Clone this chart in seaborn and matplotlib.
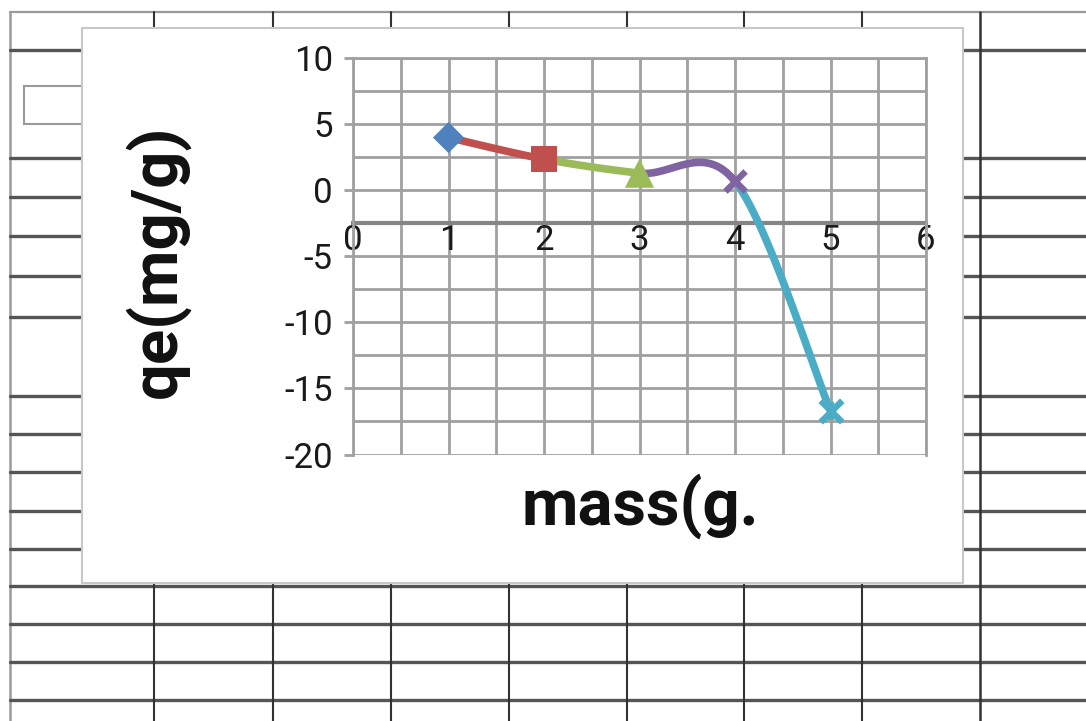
import numpy as np
import pandas as pd
import matplotlib
matplotlib.use("Agg")
import matplotlib.pyplot as plt
import seaborn as sns
from matplotlib.lines import Line2D
from matplotlib.patches import Rectangle

# ---------------- data ----------------
mass = [1, 2, 3, 4, 5]
qe = [4.0, 2.37, 1.3, 0.68, -16.7]
point_colors = ["#4F81BD", "#C0504D", "#9BBB59", "#8064A2", "#4BACC6"]
x_ticks = [0, 1, 2, 3, 4, 5, 6]
y_ticks = [-20, -15, -10, -5, 0, 5, 10]
x_label = "mass(g."
y_label = "qe(mg/g)"

# ---------------- style ----------------
sns.set_theme(style="white")
plt.rcParams["font.family"] = ["Roboto", "DejaVu Sans"]

W, H = 1086, 721
fig = plt.figure(figsize=(W / 100, H / 100), dpi=100)
fig.patch.set_facecolor("white")


def fx(x):
    return x / W


def fy(y):
    return 1 - y / H


# ---------------- spreadsheet background (layout only) ----------------
row_lines = [50, 158, 197, 236, 276, 317, 396, 434, 472, 511, 549, 586, 624, 662, 700]
col_lines = [154, 273, 391, 509, 627, 744, 862]
fig.add_artist(Line2D([fx(10), 1], [fy(12), fy(12)], color="#9a9a9a", lw=1.6, zorder=-3))
fig.add_artist(Line2D([fx(10), fx(10)], [fy(12), 0], color="#9a9a9a", lw=1.8, zorder=-3))
for yy in row_lines:
    fig.add_artist(Line2D([fx(10), 1], [fy(yy), fy(yy)], color="#555555", lw=2.4, zorder=-3))
for xx in col_lines:
    fig.add_artist(Line2D([fx(xx), fx(xx)], [fy(12), 0], color="#333333", lw=1.5, zorder=-3))
fig.add_artist(Line2D([fx(980), fx(980)], [fy(12), 0], color="#333333", lw=1.8, zorder=-3))
fig.add_artist(Rectangle((fx(24), fy(124)), fx(90) - fx(24), fy(86.5) - fy(124),
                         facecolor="white", edgecolor="#9a9a9a", lw=1.5, zorder=-2.5))

# chart area
fig.add_artist(Rectangle((fx(82), fy(583)), fx(963) - fx(82), fy(28) - fy(583),
                         facecolor="white", edgecolor="#c8c8c8", lw=1.5, zorder=-1))

# ---------------- plot area ----------------
ax = fig.add_axes([fx(353), fy(454.5), fx(926) - fx(353), fy(58.3) - fy(454.5)])
ax.set_zorder(1)
ax.set_facecolor("white")


def excel_smooth(xs, ys, n=80):
    P = np.column_stack([xs, ys]).astype(float)
    segs = []
    for i in range(len(P) - 1):
        p0 = P[i - 1] if i > 0 else P[i]
        p1 = P[i]
        p2 = P[i + 1]
        p3 = P[i + 2] if i + 2 < len(P) else P[i + 1]
        c1 = p1 + (p2 - p0) / 6.0
        c2 = p2 - (p3 - p1) / 6.0
        t = np.linspace(0, 1, n)[:, None]
        B = (1 - t) ** 3 * p1 + 3 * (1 - t) ** 2 * t * c1 + 3 * (1 - t) * t ** 2 * c2 + t ** 3 * p2
        segs.append(B)
    return segs


segs = excel_smooth(mass, qe)
frames = []
for i, B in enumerate(segs):
    frames.append(pd.DataFrame({"x": B[:, 0], "y": B[:, 1], "seg": f"s{i}"}))
df = pd.concat(frames, ignore_index=True)
sns.lineplot(data=df, x="x", y="y", hue="seg", palette=point_colors[1:], sort=False,
             estimator=None, legend=False, linewidth=5.5, ax=ax, zorder=3,
             solid_capstyle="round")

# markers
marker_specs = [("D", 250, 0), ("s", 350, 0), ("^", 440, 0), ("x", 210, 4.6)]
for i, (mk, s, lw) in enumerate(marker_specs):
    if mk == "x":
        sns.scatterplot(x=[mass[i]], y=[qe[i]], marker=mk, color=point_colors[i], s=s,
                        linewidth=lw, ax=ax, zorder=4, legend=False)
    else:
        sns.scatterplot(x=[mass[i]], y=[qe[i]], marker=mk, color=point_colors[i], s=s,
                        linewidth=0, edgecolor="none", ax=ax, zorder=4, legend=False)
# star marker for the last point (x + vertical bar)
sns.scatterplot(x=[mass[4]], y=[qe[4]], marker="x", color=point_colors[4], s=240,
                linewidth=4.6, ax=ax, zorder=4, legend=False)
sns.scatterplot(x=[mass[4]], y=[qe[4]], marker="|", color=point_colors[4], s=180,
                linewidth=4.6, ax=ax, zorder=4, legend=False)

ax.set_xlim(0, 6)
ax.set_ylim(-20, 10)
ax.set_xticks(x_ticks)
ax.set_xticks(np.arange(0, 6.01, 0.5), minor=True)
ax.set_yticks(y_ticks)
ax.set_yticks(np.arange(-20, 10.01, 2.5), minor=True)
ax.set_xticklabels([str(v) for v in x_ticks])
ax.set_yticklabels([str(v) for v in y_ticks])
ax.set_xlabel("")
ax.set_ylabel("")

grid_c = "#a0a0a0"
ax.grid(True, which="both", color=grid_c, linewidth=2.0, zorder=0)
ax.set_axisbelow(True)
for side in ["left", "right", "top"]:
    ax.spines[side].set_color(grid_c)
    ax.spines[side].set_linewidth(2.0)
    ax.spines[side].set_visible(True)
ax.spines["bottom"].set_position(("data", -2.5))
ax.spines["bottom"].set_color("#858585")
ax.spines["bottom"].set_linewidth(3.0)
ax.spines["bottom"].set_visible(True)
ax.spines["bottom"].set_zorder(2)

ax.tick_params(axis="y", which="major", left=True, length=6.5, width=2.0, color=grid_c,
               pad=8, labelsize=25, labelcolor="#1a1a1a")
ax.tick_params(axis="y", which="minor", length=0)
ax.tick_params(axis="x", which="both", bottom=True, length=0, pad=0.5, labelsize=25,
               labelcolor="#1a1a1a")

# axis titles
fig.text(fx(157), fy(261), y_label, rotation=90, ha="center", va="center",
         fontsize=47, fontweight="semibold", color="#111111")
fig.text(fx(640), fy(525), x_label, ha="center", va="baseline",
         fontsize=47, fontweight="semibold", color="#111111")

fig.savefig("out.png", dpi=100, facecolor="white")
